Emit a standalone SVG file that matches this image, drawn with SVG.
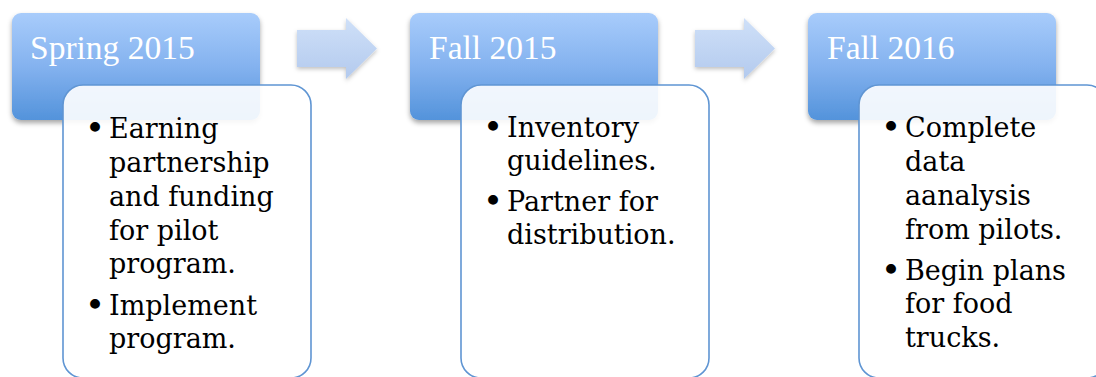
<svg xmlns="http://www.w3.org/2000/svg" width="1096" height="377" viewBox="0 0 1096 377">
  <style>
    .hdr { fill: url(#hdrGrad); filter: url(#shadow); }
    .hdrText { font-family: "Liberation Serif", "Times New Roman", serif; font-size: 33.5px; fill: #ffffff; }
    .body { fill: #ffffff; fill-opacity: 0.9; stroke: #5f95d3; stroke-width: 1.6; }
    .bodyText { font-family: "DejaVu Serif", serif; font-size: 27px; fill: #000000; }
    .bul { font-size: 34px; }
    .arrow { fill: url(#arrowGrad); filter: url(#shadow2); }
  </style>
  <defs>
    <linearGradient id="hdrGrad" x1="0" y1="0" x2="0" y2="1">
      <stop offset="0" stop-color="#a8ccfb"/>
      <stop offset="0.5" stop-color="#84b2ef"/>
      <stop offset="1" stop-color="#5393db"/>
    </linearGradient>
    <linearGradient id="arrowGrad" x1="0" y1="0" x2="0" y2="1">
      <stop offset="0" stop-color="#cfe0f8"/>
      <stop offset="1" stop-color="#b3caee"/>
    </linearGradient>
    <filter id="shadow" x="-10%" y="-10%" width="120%" height="130%">
      <feDropShadow dx="0" dy="3" stdDeviation="2.5" flood-color="#000000" flood-opacity="0.35"/>
    </filter>
    <filter id="shadow2" x="-10%" y="-10%" width="120%" height="130%">
      <feDropShadow dx="0" dy="2" stdDeviation="2" flood-color="#000000" flood-opacity="0.25"/>
    </filter>
  </defs>
  <rect width="1096" height="377" fill="#ffffff"/>

  <g id="connectors">
    <path class="arrow" d="M297,30 H346 V18 L377,48.5 L346,79 V67 H297 Z"/>
    <path class="arrow" d="M695,30 H744 V18 L775,48.5 L744,79 V67 H695 Z"/>
  </g>

  <g id="node-spring2015">
    <rect class="hdr" x="12" y="13" width="248" height="107" rx="9"/>
    <text class="hdrText" x="30" y="59">Spring 2015</text>
    <rect class="body" x="63" y="85" width="248" height="293" rx="20"/>
    <text class="bodyText">
      <tspan class="bul" x="85" y="140">•</tspan><tspan x="109" y="138">Earning</tspan>
      <tspan x="109" y="172">partnership</tspan>
      <tspan x="109" y="206">and funding</tspan>
      <tspan x="109" y="240">for pilot</tspan>
      <tspan x="109" y="273">program.</tspan>
      <tspan class="bul" x="85" y="317">•</tspan><tspan x="109" y="315">Implement</tspan>
      <tspan x="109" y="348">program.</tspan>
    </text>
  </g>

  <g id="node-fall2015">
    <rect class="hdr" x="410" y="13" width="248" height="107" rx="9"/>
    <text class="hdrText" x="429" y="59">Fall 2015</text>
    <rect class="body" x="461" y="85" width="248" height="293" rx="20"/>
    <text class="bodyText">
      <tspan class="bul" x="483" y="139">•</tspan><tspan x="507" y="137">Inventory</tspan>
      <tspan x="507" y="170">guidelines.</tspan>
      <tspan class="bul" x="483" y="213">•</tspan><tspan x="507" y="211">Partner for</tspan>
      <tspan x="507" y="244">distribution.</tspan>
    </text>
  </g>

  <g id="node-fall2016">
    <rect class="hdr" x="808" y="13" width="248" height="107" rx="9"/>
    <text class="hdrText" x="827" y="59">Fall 2016</text>
    <rect class="body" x="859" y="85" width="248" height="293" rx="20"/>
    <text class="bodyText">
      <tspan class="bul" x="881" y="139">•</tspan><tspan x="905" y="137">Complete</tspan>
      <tspan x="905" y="171">data</tspan>
      <tspan x="905" y="205">aanalysis</tspan>
      <tspan x="905" y="239">from pilots.</tspan>
      <tspan class="bul" x="881" y="282">•</tspan><tspan x="905" y="280">Begin plans</tspan>
      <tspan x="905" y="313">for food</tspan>
      <tspan x="905" y="347">trucks.</tspan>
    </text>
  </g>
</svg>
